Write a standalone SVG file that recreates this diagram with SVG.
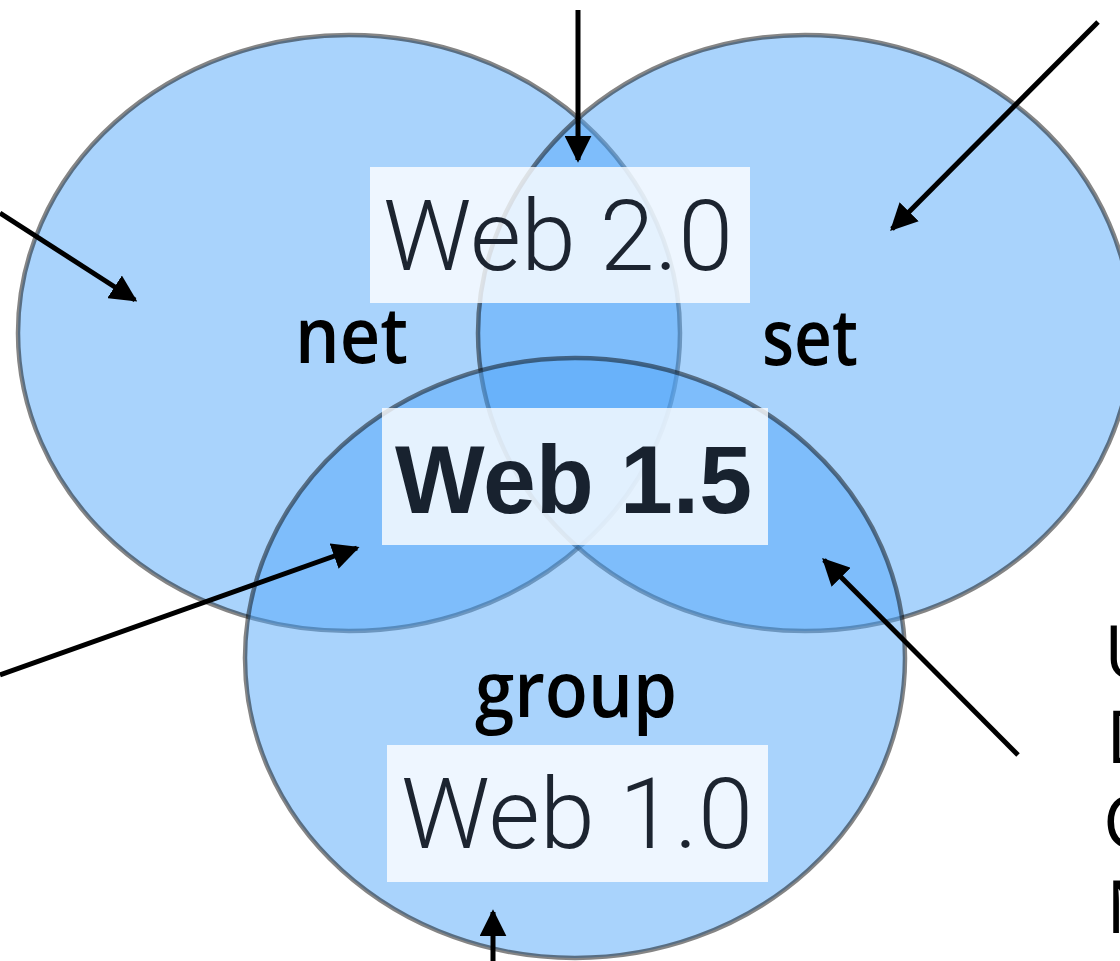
<svg xmlns="http://www.w3.org/2000/svg" width="1120" height="961" viewBox="0 0 1120 961">
<style>
.circ{fill:rgb(83,168,249);fill-opacity:0.5;stroke:#000;stroke-opacity:0.48;stroke-width:4.5}
.box{fill:#fff;fill-opacity:0.8}
.lab{font-family:"Open Sans","Lato",sans-serif;font-weight:600;font-size:77px;fill:#000}
.web{font-family:"Roboto","Liberation Sans",sans-serif;font-weight:300;font-size:98px;fill:#1c2430}
.webb{font-family:"Liberation Sans",Arial,sans-serif;font-weight:700;font-size:96px;fill:#18222f}
.side{font-family:"Open Sans","Lato",sans-serif;font-weight:500;font-size:74px;fill:#000}
.arr{stroke:#000;stroke-width:5;fill:none;marker-end:url(#ah)}
</style>
<defs>
<marker id="ah" viewBox="0 0 10 10" refX="9" refY="5" markerWidth="5.4" markerHeight="5.4" orient="auto" markerUnits="strokeWidth">
<path d="M0,0 L10,5 L0,10 Z" fill="#000"/>
</marker>
</defs>
<rect width="1120" height="961" fill="#fff"/>
<g id="net">
<ellipse class="circ" cx="349" cy="333" rx="331" ry="298"/>
</g>
<g id="set">
<ellipse class="circ" cx="805" cy="333" rx="327" ry="298"/>
</g>
<g id="group">
<ellipse class="circ" cx="575" cy="658" rx="330" ry="300"/>
</g>
<g id="web20">
<rect class="box" x="370" y="167" width="380" height="136"/>
<text class="web" x="383" y="270" textLength="350" lengthAdjust="spacingAndGlyphs">Web 2.0</text>
</g>
<g id="web15">
<rect class="box" x="382" y="408" width="386" height="137"/>
<text class="webb" x="395" y="513" textLength="357" lengthAdjust="spacingAndGlyphs">Web 1.5</text>
</g>
<g id="web10">
<rect class="box" x="387" y="745" width="381" height="137"/>
<text class="web" x="401" y="848" textLength="352" lengthAdjust="spacingAndGlyphs">Web 1.0</text>
</g>
<g id="labels">
<text class="lab" x="295" y="363" textLength="113" lengthAdjust="spacingAndGlyphs">net</text>
<text class="lab" x="762" y="365" textLength="96" lengthAdjust="spacingAndGlyphs">set</text>
<text class="lab" x="475" y="717" textLength="202" lengthAdjust="spacingAndGlyphs">group</text>
</g>
<g id="side">
<text class="side" x="1104" y="678">U</text>
<text class="side" x="1106" y="763">D</text>
<text class="side" x="1103" y="848">C</text>
<text class="side" x="1106" y="933">N</text>
</g>
<g id="connectors">
<line class="arr" x1="578" y1="10" x2="578" y2="160"/>
<line class="arr" x1="1098" y1="22" x2="892" y2="229"/>
<line class="arr" x1="0" y1="213" x2="135" y2="300"/>
<line class="arr" x1="0" y1="675" x2="357" y2="548"/>
<line class="arr" x1="1018" y1="755" x2="824" y2="560"/>
<line class="arr" x1="493" y1="961" x2="493" y2="912"/>
</g>
</svg>
